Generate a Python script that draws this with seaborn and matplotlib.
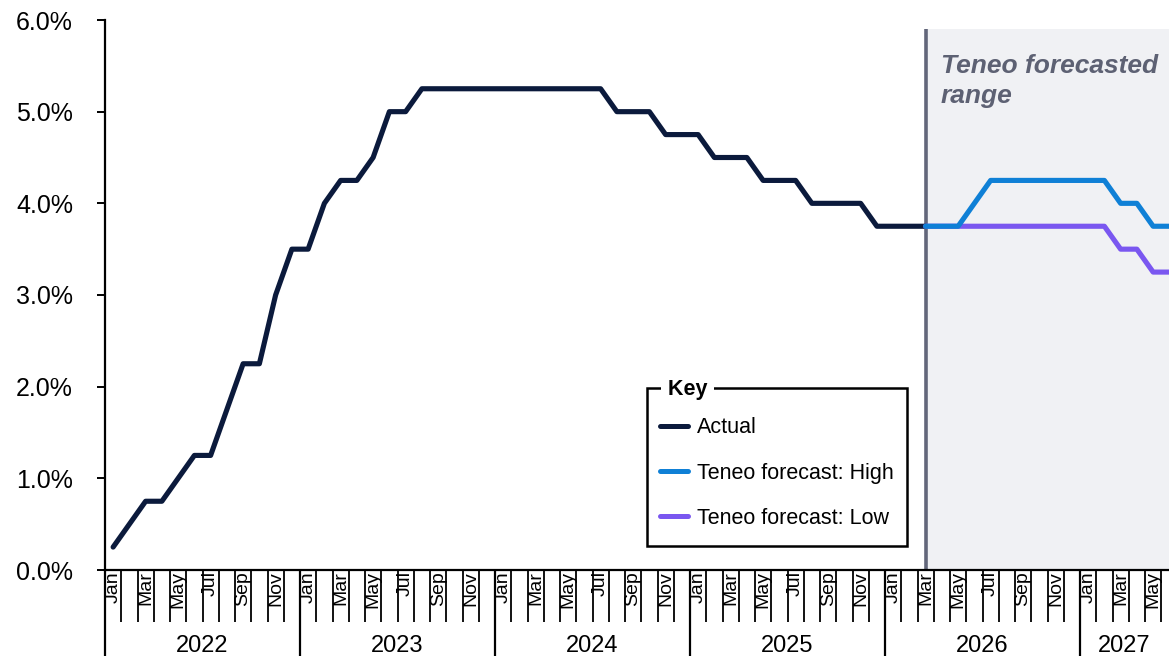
import matplotlib
matplotlib.use("Agg")
import matplotlib.pyplot as plt
import matplotlib.transforms as mtransforms
from matplotlib.lines import Line2D
from matplotlib.patches import Rectangle
import numpy as np
import pandas as pd
import seaborn as sns

# ---------------- data ----------------
month_names = ["Jan", "Feb", "Mar", "Apr", "May", "Jun",
               "Jul", "Aug", "Sep", "Oct", "Nov", "Dec"]
years = ["2022", "2023", "2024", "2025", "2026", "2027"]
n_months = 66  # Jan 2022 .. Jun 2027

actual = [0.25, 0.50, 0.75, 0.75, 1.00, 1.25, 1.25, 1.75, 2.25, 2.25, 3.00, 3.50,
          3.50, 4.00, 4.25, 4.25, 4.50, 5.00, 5.00, 5.25, 5.25, 5.25, 5.25, 5.25,
          5.25, 5.25, 5.25, 5.25, 5.25, 5.25, 5.25, 5.00, 5.00, 5.00, 4.75, 4.75,
          4.75, 4.50, 4.50, 4.50, 4.25, 4.25, 4.25, 4.00, 4.00, 4.00, 4.00, 3.75,
          3.75, 3.75, 3.75]
forecast_start = 50  # Mar 2026
forecast_high = [3.75, 3.75, 3.75, 4.00, 4.25, 4.25, 4.25, 4.25, 4.25, 4.25,
                 4.25, 4.25, 4.00, 4.00, 3.75, 3.75]
forecast_low = [3.75, 3.75, 3.75, 3.75, 3.75, 3.75, 3.75, 3.75, 3.75, 3.75,
                3.75, 3.75, 3.50, 3.50, 3.25, 3.25]

series_names = ["Actual", "Teneo forecast: High", "Teneo forecast: Low"]
colors = {"Actual": "#0B1A3C",
          "Teneo forecast: High": "#0F80D6",
          "Teneo forecast: Low": "#7A57F0"}

df = pd.concat([
    pd.DataFrame({"idx": np.arange(len(actual)), "rate": actual, "series": "Actual"}),
    pd.DataFrame({"idx": forecast_start + np.arange(len(forecast_high)),
                  "rate": forecast_high, "series": "Teneo forecast: High"}),
    pd.DataFrame({"idx": forecast_start + np.arange(len(forecast_low)),
                  "rate": forecast_low, "series": "Teneo forecast: Low"}),
], ignore_index=True)

# ---------------- style ----------------
sns.set_theme(style="white")
plt.rcParams["font.family"] = ["Liberation Sans", "DejaVu Sans"]
plt.rcParams["text.color"] = "black"

W, H = 1169, 656
fig = plt.figure(figsize=(W / 100, H / 100), dpi=100)
ax_left, ax_right, ax_top, ax_bottom = 105, 1169, 20, 570
ax = fig.add_axes([ax_left / W, 1 - ax_bottom / H,
                   (ax_right - ax_left) / W, (ax_bottom - ax_top) / H])
ax.set_facecolor("white")
AW, AH = ax_right - ax_left, ax_bottom - ax_top

def fx(px):
    return (px - ax_left) / AW

def fy(py):
    return (ax_bottom - py) / AH

x_right = AW / 16.25 - 0.5
ax.set_xlim(-0.5, x_right)
ax.set_ylim(0, 6)

# forecast shading and divider
shade_top = 5.9
ax.fill_between([forecast_start, x_right], 0, shade_top, color="#F0F1F4",
                zorder=0, linewidth=0)
ax.plot([forecast_start, forecast_start], [0, shade_top], color="#62667A",
        linewidth=2.6, zorder=1, solid_capstyle="butt")
ax.annotate("Teneo forecasted\nrange", xy=(forecast_start, 5.9),
            xytext=(11, -18), textcoords="offset points",
            ha="left", va="top", fontsize=19, fontweight="bold",
            fontstyle="italic", color="#5D6173", linespacing=1.3)

# lines (Low first so High sits on top where they coincide)
for name in ["Actual", "Teneo forecast: Low", "Teneo forecast: High"]:
    sub = df[df["series"] == name]
    sns.lineplot(data=sub, x="idx", y="rate", color=colors[name], linewidth=3.7,
                 ax=ax, legend=False, zorder=3)

# ---------------- axes ----------------
for s in ["top", "right"]:
    ax.spines[s].set_visible(False)
for s in ["left", "bottom"]:
    ax.spines[s].set_color("black")
    ax.spines[s].set_linewidth(1.6)

yt = np.arange(0, 7, 1)
ax.set_yticks(yt)
ax.set_yticklabels([f"{v:.1f}%" for v in yt], fontsize=18, color="black")
ax.tick_params(axis="y", direction="out", length=6, width=1.4, pad=17,
               left=True, colors="black")

# month labels (every other month)
lab_idx = [i for i in range(n_months) if i % 2 == 0]
ax.set_xticks(lab_idx)
ax.set_xticklabels([month_names[i % 12] for i in lab_idx], rotation=90,
                   fontsize=14, color="black")
ax.tick_params(axis="x", length=0, pad=1)
ax.set_xlabel("")
ax.set_ylabel("")

# month separators and year separators
trans = mtransforms.blended_transform_factory(ax.transData, ax.transAxes)
month_len = (622 - 570) / AH
year_len = (H - 570 + 5) / AH
for b in np.arange(0.5, x_right, 1.0):
    is_year = (round(b + 0.5) % 12 == 0)
    ax.plot([b, b], [0, -(year_len if is_year else month_len)], transform=trans,
            color="black", linewidth=1.6 if is_year else 1.3, clip_on=False,
            solid_capstyle="butt")
ax.plot([-0.5, -0.5], [0, -year_len], transform=trans, color="black",
        linewidth=1.6, clip_on=False, solid_capstyle="butt")

# year labels
year_y = -(652 - 570) / AH
for k, yr in enumerate(years):
    start = k * 12 - 0.5
    end = min(start + 12, x_right)
    ax.text((start + end) / 2, year_y, yr, transform=trans, ha="center",
            va="baseline", fontsize=17, color="black")

# ---------------- legend ----------------
handles = [Line2D([0], [0], color=colors[n], linewidth=3.6) for n in series_names]
leg = ax.legend(handles, series_names, loc="center left",
                bbox_to_anchor=(fx(660), fy(473)), borderaxespad=0,
                frameon=False, fontsize=15.5, handlelength=1.3,
                handletextpad=0.42, borderpad=0, labelspacing=1.13,
                labelcolor="black")
leg.set_zorder(5)
ax.add_patch(Rectangle((fx(647), fy(546)), fx(907) - fx(647), fy(388) - fy(546),
                       transform=ax.transAxes, facecolor="white",
                       edgecolor="black", linewidth=1.8, zorder=4,
                       clip_on=False))
ax.text(fx(662), fy(390), " Key ", transform=ax.transAxes, ha="left",
        va="center", fontsize=15.5, fontweight="bold", color="black", zorder=6,
        bbox=dict(facecolor="white", edgecolor="none", pad=0.5))

fig.savefig("out.png", dpi=100, facecolor="white")
